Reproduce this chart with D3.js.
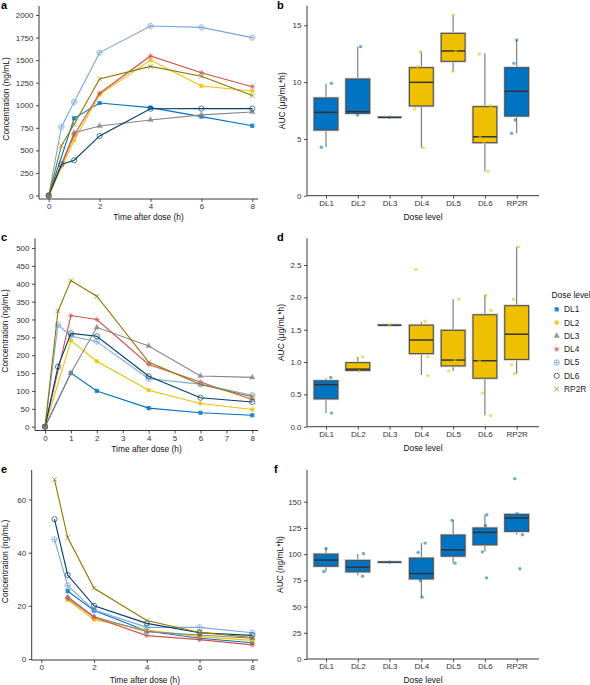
<!DOCTYPE html>
<html><head><meta charset="utf-8">
<script src="https://cdn.jsdelivr.net/npm/d3@7"></script>
<style>
body{margin:0;background:#fff}
svg{display:block}
text{font-family:"Liberation Sans",Arial,Helvetica,sans-serif}
</style>
</head><body>
<svg id="chart" width="590" height="685"></svg>
<script>
// ---------------- DATA ----------------
const doseLevels = ["DL1","DL2","DL3","DL4","DL5","DL6","RP2R"];
const earlySampled = ["DL5","DL6","RP2R"]; // series that include the 0.5 h sample
const palette = ["#0073C2","#EFC000","#868686","#CD534C","#7AA6DC","#003C67","#8F7700"];
const shapes = ["square","circle","triangle","asterisk","circleplus","opencircle","cross"];

// panel a: concentration (ng/mL)
const timesA = [0,1,2,4,6,8];
const timesAEarly = [0,0.5,1,2,4,6,8];
const concA = [
  [0, 856, 1025, 974, 874, 772],
  [0, 612, 1120, 1501, 1214, 1158],
  [0, 697, 771, 837, 893, 926],
  [0, 670, 1133, 1546, 1361, 1206],
  [0, 760, 1037, 1583, 1878, 1863, 1749],
  [0, 345, 391, 660, 962, 963, 963],
  [0, 553, 790, 1291, 1431, 1321, 1107]
];
const yTicksA = [0,250,500,750,1000,1250,1500,1750,2000];
const xTicksA = [0,2,4,6,8];

// panel c
const timesC = [0,1,2,4,6,8];
const timesCEarly = [0,0.5,1,2,4,6,8];
const concC = [
  [0, 150, 100, 52, 39, 32],
  [0, 241, 183, 102, 65, 48],
  [0, 150, 278, 226, 142, 138],
  [0, 311, 300, 174, 125, 76],
  [0, 285, 254, 238, 134, 119, 88],
  [0, 168, 261, 253, 141, 81, 69],
  [0, 323, 409, 365, 181, 118, 84]
];
const yTicksC = [0,50,100,150,200,250,300,350,400,450,500];
const xTicksC = [0,1,2,3,4,5,6,7,8];

// panel e
const timesE = [1,2,4,6,8];
const timesEEarly = [0.5,1,2,4,6,8];
const concE = [
  [25.6, 18.2, 10.5, 7.8, 6.1],
  [22.2, 14.8, 10.9, 8.4, 7.0],
  [23.4, 15.9, 10.3, 9.0, 7.8],
  [22.8, 15.7, 8.8, 7.3, 5.3],
  [45.0, 27.6, 18.4, 11.9, 11.9, 9.9],
  [52.6, 31.6, 20.0, 13.4, 9.9, 8.9],
  [67.5, 45.7, 26.6, 14.5, 10.0, 8.1]
];
const yTicksE = [0,20,40,60];
const xTicksE = [0,2,4,6,8];

// panel b: AUC (ug/mL*h) box statistics
const bQ1  = [5.78, 7.25, 6.9, 7.9, 11.83, 4.67, 7.01];
const bMed = [7.34, 7.4, 6.9, 9.98, 12.74, 5.19, 9.19];
const bQ3  = [8.6, 10.27, 6.9, 11.27, 14.29, 7.84, 11.27];
const bLo  = [4.26, 7.1, 6.9, 4.23, 10.95, 2.14, 5.49];
const bHi  = [9.86, 13.12, 6.9, 12.68, 15.9, 12.53, 13.7];
const bGroup = ["blue","blue","blue","yellow","yellow","yellow","blue"];
const bPoints = [ // [dose, jitter (fraction of category step), value]
  ["DL1",0.17,9.89],["DL1",-0.15,4.26],
  ["DL2",0.09,13.12],["DL2",-0.01,7.1],
  ["DL3",0,6.9],
  ["DL4",-0.03,12.68],["DL4",-0.12,11.36],["DL4",-0.21,7.63],["DL4",0.06,4.23],
  ["DL5",0,15.9],["DL5",0,10.95],["DL5",0.08,12.74],
  ["DL6",-0.18,12.47],["DL6",0.18,7.92],["DL6",0.1,2.14],["DL6",-0.04,4.67],["DL6",-0.15,5.19],
  ["RP2R",0,13.7],["RP2R",-0.09,11.65],["RP2R",-0.05,6.66],["RP2R",-0.16,5.49]
];
const yTicksB = [0,5,10,15];

// panel d
const dQ1  = [0.43, 0.87, 1.57, 1.13, 0.94, 0.75, 1.04];
const dMed = [0.65, 0.89, 1.57, 1.34, 1.03, 1.02, 1.43];
const dQ3  = [0.71, 0.99, 1.57, 1.57, 1.49, 1.73, 1.87];
const dLo  = [0.21, 0.86, 1.57, 0.80, 0.86, 0.175, 0.82];
const dHi  = [0.75, 1.08, 1.57, 1.62, 1.97, 2.04, 2.78];
const dGroup = ["blue","yellow","yellow","yellow","yellow","yellow","yellow"];
const dPoints = [
  ["DL1",0.15,0.76],["DL1",0.17,0.21],
  ["DL2",0.15,1.08],["DL2",0.05,0.86],
  ["DL3",0,1.57],
  ["DL4",-0.17,2.43],["DL4",0.12,1.63],["DL4",0.2,1.08],["DL4",0.2,0.79],
  ["DL5",0.18,1.97],["DL5",-0.14,0.86],["DL5",0.06,1.03],
  ["DL6",0.03,2.03],["DL6",0.19,1.80],["DL6",-0.08,0.52],["DL6",0.18,0.17],["DL6",-0.17,1.02],
  ["RP2R",0.05,2.78],["RP2R",-0.1,1.97],["RP2R",-0.16,0.96],["RP2R",-0.07,0.82]
];
const yTicksD = [0,0.5,1,1.5,2,2.5];

// panel f: AUC (ng/mL*h)
const fQ1  = [88.5, 83.1, 92.4, 76.4, 98.1, 108.9, 121.7];
const fMed = [94.3, 87.6, 92.4, 81.5, 104.1, 120.7, 134.4];
const fQ3  = [100, 94, 92.4, 96.2, 118.2, 124.9, 137.9];
const fLo  = [83.4, 79.6, 92.4, 58.9, 91.7, 102.6, 118.5];
const fHi  = [105.7, 100, 92.4, 110.5, 132.2, 137.6, 139.2];
const fGroup = ["blue","blue","blue","blue","blue","blue","blue"];
const fPoints = [
  ["DL1",0,105.4],["DL1",-0.07,83.4],
  ["DL2",0.18,100.3],["DL2",0.15,79],
  ["DL3",0,92.4],
  ["DL4",0.12,110.5],["DL4",-0.1,101.6],["DL4",-0.03,74.8],["DL4",0.02,58.9],
  ["DL5",-0.03,132.2],["DL5",0.06,91.4],
  ["DL6",0.06,137.6],["DL6",0.02,127],["DL6",-0.08,102.2],["DL6",0.05,77.4],
  ["RP2R",-0.06,172],["RP2R",0.01,138.5],["RP2R",0.18,118.5],["RP2R",0.1,86]
];
const yTicksF = [0,25,50,75,100,125,150];

// ---------------- DRAWING ----------------
const svg = d3.select("#chart");
const color = d3.scaleOrdinal().domain(doseLevels).range(palette);
const shape = d3.scaleOrdinal().domain(doseLevels).range(shapes);
const groupFill = {blue:"#0073C2", yellow:"#EFC000"};
const AX = "#222", TXT = "#333", FS = 8, TFS = 8.4;

function marker(g, s, c){
  const sw = 0.85;
  if (s === "square") g.append("rect").attr("x",-2.1).attr("y",-2.1).attr("width",4.2).attr("height",4.2).attr("fill",c);
  else if (s === "circle") g.append("circle").attr("r",2.3).attr("fill",c);
  else if (s === "triangle") g.append("path").attr("d", d3.symbol(d3.symbolTriangle, 17)()).attr("fill",c);
  else if (s === "asterisk") {
    const r = 2.7, q = r*0.7071;
    g.append("path").attr("d",`M${-r},0H${r}M0,${-r}V${r}M${-q},${-q}L${q},${q}M${-q},${q}L${q},${-q}`)
      .attr("stroke",c).attr("stroke-width",sw).attr("fill","none");
  } else if (s === "circleplus") {
    const r = 2.7;
    g.append("circle").attr("r",r).attr("fill","none").attr("stroke",c).attr("stroke-width",sw);
    g.append("path").attr("d",`M${-r},0H${r}M0,${-r}V${r}`).attr("stroke",c).attr("stroke-width",sw);
  } else if (s === "opencircle") {
    g.append("circle").attr("r",2.6).attr("fill","none").attr("stroke",c).attr("stroke-width",sw);
  } else if (s === "cross") {
    const q = 2.3;
    g.append("path").attr("d",`M${-q},${-q}L${q},${q}M${-q},${q}L${q},${-q}`)
      .attr("stroke",c).attr("stroke-width",sw).attr("fill","none");
  }
}

function styleAxis(g){
  g.select(".domain").remove();
  g.selectAll(".tick line").attr("stroke",AX).attr("stroke-width",0.8);
  g.selectAll(".tick text").attr("fill",TXT).attr("font-size",FS)
    .attr("font-family","'Liberation Sans',Arial,sans-serif");
  g.attr("font-family",null).attr("font-size",null);
}

function frame(L){
  svg.append("line").attr("x1",L.axisX).attr("x2",L.axisX).attr("y1",L.axisTop).attr("y2",L.axisBottom)
    .attr("stroke",AX).attr("stroke-width",0.9);
  svg.append("line").attr("x1",L.axisX).attr("x2",L.axisRight).attr("y1",L.axisBottom).attr("y2",L.axisBottom)
    .attr("stroke",AX).attr("stroke-width",0.9);
  svg.append("text").attr("x",L.labelX).attr("y",L.labelY).text(L.label)
    .attr("font-size",11).attr("font-weight","bold").attr("fill","#000");
  svg.append("text").attr("x",(L.axisX+L.axisRight)/2).attr("y",L.xTitleY).attr("text-anchor","middle")
    .attr("font-size",TFS).attr("fill","#111").text(L.xTitle);
  const cy = (L.axisTop+L.axisBottom)/2 + (L.yTitleShift || 0);
  svg.append("text").attr("transform",`translate(${L.yTitleX},${cy}) rotate(-90)`)
    .attr("text-anchor","middle").attr("dy","0.35em").attr("font-size",TFS).attr("fill","#111").text(L.yTitle);
}

function linePanel(L, values, times, timesEarly, yTicks, xTicks){
  const x = d3.scaleLinear().domain([0,8]).range([L.x0, L.x8]);
  const y = d3.scaleLinear().domain([0,L.yRef]).range([L.y0, L.yRefPx]);
  frame(L);
  svg.append("g").attr("transform",`translate(${L.axisX},0)`)
    .call(d3.axisLeft(y).tickValues(yTicks).tickFormat(d3.format("d")).tickSize(3).tickPadding(2.5)).call(styleAxis);
  svg.append("g").attr("transform",`translate(0,${L.axisBottom})`)
    .call(d3.axisBottom(x).tickValues(xTicks).tickFormat(d3.format("d")).tickSize(3).tickPadding(1.5)).call(styleAxis);
  const line = d3.line().x(p=>x(p[0])).y(p=>y(p[1]));
  doseLevels.forEach((dl,i)=>{
    const t = earlySampled.includes(dl) ? timesEarly : times;
    const pts = values[i].map((v,j)=>[t[j], v]);
    svg.append("path").attr("d",line(pts)).attr("fill","none").attr("stroke",color(dl)).attr("stroke-width",1.1);
    pts.forEach(p=>{
      const g = svg.append("g").attr("transform",`translate(${x(p[0])},${y(p[1])})`).attr("opacity",0.8);
      marker(g, shape(dl), color(dl));
    });
  });
}

function boxPanel(L, q1, med, q3, lo, hi, grp, points, yTicks, fmt){
  const x = d3.scalePoint().domain(doseLevels).range([L.c0, L.c1]);
  const step = x.step();
  const bw = step*0.75;
  const y = d3.scaleLinear().domain([0,L.yRef]).range([L.y0, L.yRefPx]);
  frame(L);
  const ya = d3.axisLeft(y).tickValues(yTicks).tickSize(3).tickPadding(2.5).tickFormat(d3.format(fmt));
  svg.append("g").attr("transform",`translate(${L.axisX},0)`).call(ya).call(styleAxis);
  svg.append("g").attr("transform",`translate(0,${L.axisBottom})`)
    .call(d3.axisBottom(x).tickSize(3).tickPadding(1.5)).call(styleAxis);
  doseLevels.forEach((dl,i)=>{
    const cx = x(dl);
    svg.append("line").attr("x1",cx).attr("x2",cx).attr("y1",y(q3[i])).attr("y2",y(hi[i])).attr("stroke","#666").attr("stroke-width",1);
    svg.append("line").attr("x1",cx).attr("x2",cx).attr("y1",y(q1[i])).attr("y2",y(lo[i])).attr("stroke","#666").attr("stroke-width",1);
    const h = y(q1[i]) - y(q3[i]);
    if (h > 0.5) {
      svg.append("rect").attr("x",cx-bw/2).attr("y",y(q3[i])).attr("width",bw).attr("height",h)
        .attr("fill","none").attr("stroke","#cfcfcf").attr("stroke-width",2.6);
      svg.append("rect").attr("x",cx-bw/2).attr("y",y(q3[i])).attr("width",bw).attr("height",h)
        .attr("fill",groupFill[grp[i]]).attr("stroke","#505050").attr("stroke-width",1.1);
    } else {
      svg.append("line").attr("x1",cx-bw/2).attr("x2",cx+bw/2).attr("y1",y(med[i])).attr("y2",y(med[i]))
        .attr("stroke","#cfcfcf").attr("stroke-width",3);
    }
    svg.append("line").attr("x1",cx-bw/2).attr("x2",cx+bw/2).attr("y1",y(med[i])).attr("y2",y(med[i]))
      .attr("stroke","#333").attr("stroke-width",1.5);
  });
  points.forEach(p=>{
    const gi = doseLevels.indexOf(p[0]);
    svg.append("circle").attr("cx",x(p[0])+p[1]*step).attr("cy",y(p[2])).attr("r",1.7)
      .attr("fill",groupFill[grp[gi]]).attr("opacity",0.6);
  });
}

const leftBase = {axisRight:258, labelX:1, xTitle:"Time after dose (h)", yTitle:"Concentration (ng/mL)", yTitleShift:-3.5};
const rightBase = {axisX:307, axisRight:539, c0:326, c1:516.7, labelX:277, xTitle:"Dose level"};

linePanel(Object.assign({}, leftBase, {label:"a", labelY:9, axisX:39, axisTop:6, axisBottom:199,
  x0:48.7, x8:252.3, y0:195.5, yRef:2000, yRefPx:15, xTitleY:220, yTitleX:6}),
  concA, timesA, timesAEarly, yTicksA, xTicksA);
linePanel(Object.assign({}, leftBase, {label:"c", labelY:241, axisX:35, axisTop:238.5, axisBottom:430.5,
  x0:45, x8:252.3, y0:426.7, yRef:500, yRefPx:248, xTitleY:451.5, yTitleX:5}),
  concC, timesC, timesCEarly, yTicksC, xTicksC);
linePanel(Object.assign({}, leftBase, {label:"e", labelY:473, axisX:31.7, axisTop:470, axisBottom:660,
  x0:41.3, x8:252.3, y0:659, yRef:60, yRefPx:499.5, xTitleY:683, yTitleX:5}),
  concE, timesE, timesEEarly, yTicksE, xTicksE);

boxPanel(Object.assign({}, rightBase, {label:"b", labelY:9, axisTop:5.7, axisBottom:195.7,
  y0:195.7, yRef:15, yRefPx:25.3, xTitleY:220, yTitleX:282.5, yTitle:"AUC (μg/mL*h)"}),
  bQ1,bMed,bQ3,bLo,bHi,bGroup,bPoints,yTicksB,"d");
boxPanel(Object.assign({}, rightBase, {label:"d", labelY:241, axisTop:238.3, axisBottom:426.7,
  y0:426.7, yRef:2.5, yRefPx:265, xTitleY:451, yTitleX:281.5, yTitle:"AUC (μg/mL*h)"}),
  dQ1,dMed,dQ3,dLo,dHi,dGroup,dPoints,yTicksD,".1f");
boxPanel(Object.assign({}, rightBase, {label:"f", labelY:473, labelX:274, axisTop:470, axisBottom:659,
  y0:659, yRef:150, yRefPx:501.7, xTitleY:683, yTitleX:280, yTitle:"AUC (ng/mL*h)"}),
  fQ1,fMed,fQ3,fLo,fHi,fGroup,fPoints,yTicksF,"d");

// legend
const leg = svg.append("g");
leg.append("text").attr("x",551.5).attr("y",298).attr("font-size",TFS).attr("fill","#111").text("Dose level");
doseLevels.forEach((dl,i)=>{
  const yy = 309.3 + i*13.3;
  const g = leg.append("g").attr("transform",`translate(556.7,${yy})`).attr("opacity",0.85);
  marker(g, shape(dl), color(dl));
  leg.append("text").attr("x",564).attr("y",yy).attr("dy","0.35em").attr("font-size",TFS).attr("fill","#222").text(dl);
});
</script>
</body></html>
